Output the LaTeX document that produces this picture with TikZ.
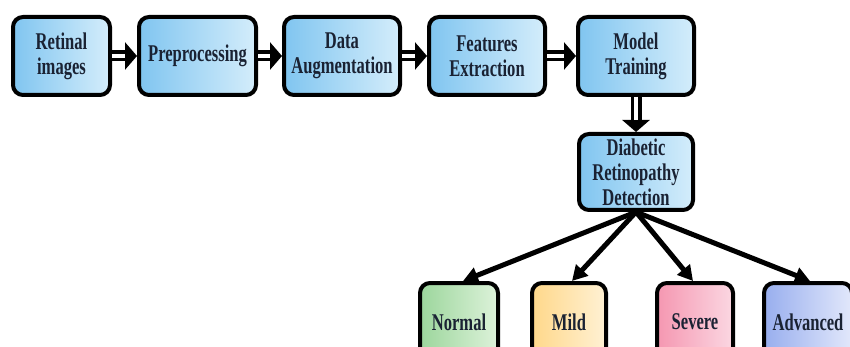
\documentclass[tikz,border=0pt]{standalone}
\usepackage{fontspec}
\setmainfont{Liberation Serif}[FakeStretch=0.69]
\usetikzlibrary{arrows.meta}
\definecolor{txt}{HTML}{1A2233}
\definecolor{b1}{HTML}{80C5F0}
\definecolor{b2}{HTML}{D4EDFB}
\definecolor{g1}{HTML}{9CD69C}
\definecolor{g2}{HTML}{DDF2DA}
\definecolor{y1}{HTML}{FFD88A}
\definecolor{y2}{HTML}{FFF1D4}
\definecolor{p1}{HTML}{F597B1}
\definecolor{p2}{HTML}{FBD7E2}
\definecolor{v1}{HTML}{98AEEE}
\definecolor{v2}{HTML}{E2E8FB}
\begin{document}
\begin{tikzpicture}[x=1pt,y=-1pt,
  box/.style={draw=black, line width=4pt, rounded corners=10pt, align=center,
    font=\bfseries\fontsize{24}{25}\selectfont, text=txt, inner sep=0pt,
    minimum height=78pt},
  bluebox/.style={box, left color=b1, right color=b2},
  dbl/.style={line width=11pt, -{Triangle[length=12pt,width=27pt]},
    postaction={draw=white, line width=3.5pt, shorten >=12pt, -}},
  cls/.style={line width=5pt, -{Triangle[length=15pt,width=16pt]}}
]
\useasboundingbox (0,0) rectangle (850,347);
\clip (0,0) rectangle (850,347);

\node[bluebox, minimum width=97pt]  (ret) at (61.5,56) {Retinal\\images};
\node[bluebox, minimum width=117pt] (pre) at (197.5,56) {Preprocessing};
\node[bluebox, minimum width=116pt] (aug) at (342,56) {Data\\Augmentation};
\node[bluebox, minimum width=116pt] (fea) at (487,56) {Features\\Extraction};
\node[bluebox, minimum width=116pt] (mod) at (636,56) {Model\\Training};
\node[bluebox, minimum width=114pt, minimum height=76pt, yshift=0pt] (det) at (636,172)
  {Diabetic\\Retinopathy\\Detection};

\node[box, left color=g1, right color=g2, minimum width=78pt] (nor) at (459,322) {Normal};
\node[box, left color=y1, right color=y2, minimum width=74pt] (mil) at (569,322) {Mild};
\node[box, left color=p1, right color=p2, minimum width=76pt] (sev) at (695,322) {Severe};
\node[box, left color=v1, right color=v2, minimum width=88pt] (adv) at (808,322) {Advanced};

\draw[dbl] (ret.east) -- (pre.west);
\draw[dbl] (pre.east) -- (aug.west);
\draw[dbl] (aug.east) -- (fea.west);
\draw[dbl] (fea.east) -- (mod.west);
\draw[dbl] (mod.south) -- (det.north);

\draw[cls] (det.south) -- ([xshift=4pt]nor.north);
\draw[cls] (det.south) -- ([xshift=3pt]mil.north);
\draw[cls] (det.south) -- ([xshift=-2pt]sev.north);
\draw[cls] (det.south) -- ([xshift=2pt]adv.north);
\end{tikzpicture}
\end{document}
